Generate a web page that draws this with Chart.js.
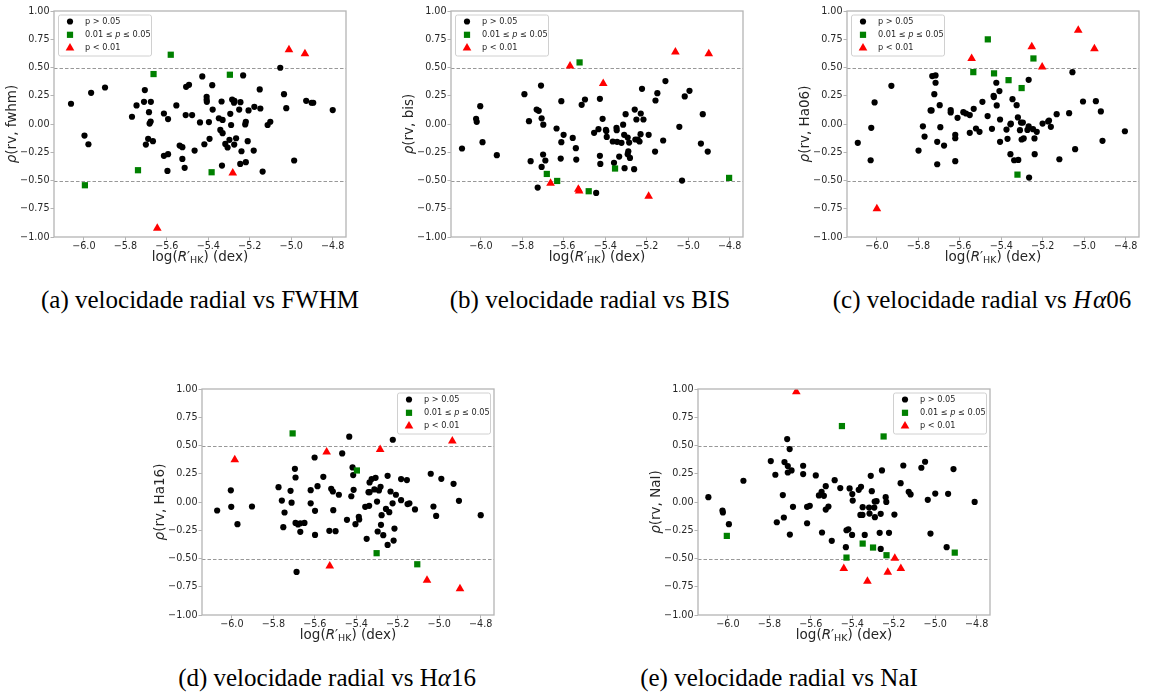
<!DOCTYPE html>
<html>
<head>
<meta charset="utf-8">
<script src="https://cdn.jsdelivr.net/npm/chart.js@4.4.1/dist/chart.umd.min.js"></script>
<style>
  body { margin: 0; background: #fff; width: 1150px; height: 694px; position: relative; overflow: hidden; }
  canvas { position: absolute; }
  .cap { position: absolute; width: 500px; text-align: center; font-family: "Liberation Serif", serif;
         font-size: 25px; line-height: 25px; color: #000; white-space: nowrap; }
  .cap i { font-style: italic; }
</style>
</head>
<body>
<canvas id="pa"></canvas>
<canvas id="pb"></canvas>
<canvas id="pc"></canvas>
<canvas id="pd"></canvas>
<canvas id="pe"></canvas>

<div class="cap" style="left:-50px;top:287px">(a) velocidade radial vs FWHM</div>
<div class="cap" style="left:340px;top:287px">(b) velocidade radial vs BIS</div>
<div class="cap" style="left:732px;top:287px">(c) velocidade radial vs <i>H</i>&#8202;<i>α</i>06</div>
<div class="cap" style="left:77px;top:665px">(d) velocidade radial vs H<i>α</i>16</div>
<div class="cap" style="left:529px;top:665px">(e) velocidade radial vs NaI</div>

<script>
// axis setup shared by every panel
const xTicks = [-6.0, -5.8, -5.6, -5.4, -5.2, -5.0, -4.8];
const yTicks = [-1.0, -0.75, -0.5, -0.25, 0, 0.25, 0.5, 0.75, 1.0];
const xRange = [-6.144, -4.736];
const refLines = [0.5, -0.5];
const groupLabels = ['p > 0.05', '0.01 ≤ p ≤ 0.05', 'p < 0.01'];

// (a) rv vs fwhm : [log R'HK, rho]
const fwhmNs = [[-6.062,0.179],[-5.997,-0.102],[-5.978,-0.179],[-5.965,0.276],[-5.898,0.323],[-5.768,0.064],[-5.746,0.164],[-5.706,0.300],[-5.710,0.196],[-5.677,0.196],[-5.686,0.105],[-5.683,0.004],[-5.678,0.022],[-5.690,-0.131],[-5.701,-0.182],[-5.667,-0.152],[-5.614,0.093],[-5.594,0.044],[-5.614,-0.282],[-5.594,-0.267],[-5.597,-0.415],[-5.554,0.164],[-5.538,-0.191],[-5.525,-0.205],[-5.525,-0.309],[-5.514,-0.388],[-5.509,0.079],[-5.507,0.329],[-5.493,0.347],[-5.478,0.079],[-5.466,-0.235],[-5.440,0.014],[-5.429,0.421],[-5.419,-0.179],[-5.408,0.241],[-5.408,0.214],[-5.407,0.196],[-5.397,0.017],[-5.394,-0.131],[-5.381,0.344],[-5.379,0.128],[-5.349,0.051],[-5.342,-0.052],[-5.336,0.199],[-5.331,0.036],[-5.331,-0.081],[-5.334,-0.368],[-5.318,-0.176],[-5.307,-0.208],[-5.298,-0.140],[-5.294,0.090],[-5.290,-0.009],[-5.285,0.217],[-5.276,0.188],[-5.274,0.205],[-5.275,-0.182],[-5.266,-0.126],[-5.251,0.128],[-5.245,0.193],[-5.246,-0.353],[-5.240,-0.241],[-5.232,0.430],[-5.222,-0.004],[-5.219,0.019],[-5.219,-0.338],[-5.210,-0.152],[-5.206,0.120],[-5.181,-0.235],[-5.178,0.152],[-5.152,0.306],[-5.149,0.137],[-5.138,-0.421],[-5.114,-0.009],[-5.101,0.020],[-5.053,0.498],[-5.035,0.264],[-5.024,0.140],[-4.986,-0.323],[-4.928,0.205],[-4.902,0.188],[-4.894,0.188],[-4.800,0.123]];
const fwhmMid = [[-5.995,-0.542],[-5.739,-0.409],[-5.664,0.442],[-5.581,0.613],[-5.384,-0.427],[-5.296,0.436]];
const fwhmSig = [[-5.646,-0.923],[-5.282,-0.433],[-5.011,0.657],[-4.934,0.622]];

// (b) rv vs bis
const bisNs = [[-6.091,-0.217],[-6.023,0.046],[-6.020,0.019],[-6.003,0.158],[-5.992,-0.161],[-5.923,-0.276],[-5.790,0.264],[-5.768,0.025],[-5.760,-0.329],[-5.731,0.128],[-5.721,0.117],[-5.710,0.340],[-5.707,0.050],[-5.699,-0.006],[-5.700,-0.270],[-5.707,-0.380],[-5.689,-0.323],[-5.726,-0.563],[-5.635,-0.040],[-5.612,0.202],[-5.612,-0.161],[-5.615,-0.306],[-5.601,-0.096],[-5.557,-0.123],[-5.542,-0.214],[-5.540,-0.315],[-5.514,0.170],[-5.498,0.217],[-5.454,-0.078],[-5.433,-0.046],[-5.426,0.223],[-5.426,-0.282],[-5.424,-0.353],[-5.413,0.046],[-5.397,-0.052],[-5.395,-0.063],[-5.393,-0.114],[-5.364,-0.155],[-5.358,-0.344],[-5.346,-0.034],[-5.345,-0.055],[-5.343,-0.158],[-5.333,-0.288],[-5.322,-0.167],[-5.314,-0.006],[-5.309,-0.096],[-5.302,0.087],[-5.307,-0.391],[-5.292,-0.120],[-5.289,-0.241],[-5.292,-0.267],[-5.285,-0.164],[-5.281,-0.300],[-5.261,-0.400],[-5.258,0.128],[-5.250,0.040],[-5.255,-0.137],[-5.243,-0.137],[-5.235,-0.155],[-5.229,0.093],[-5.230,-0.090],[-5.223,0.311],[-5.216,0.040],[-5.191,-0.096],[-5.160,-0.244],[-5.158,0.208],[-5.149,0.273],[-5.110,0.380],[-5.121,-0.146],[-5.043,-0.025],[-5.030,-0.501],[-5.017,0.244],[-4.994,0.294],[-4.939,-0.173],[-4.930,0.087],[-4.906,-0.244],[-5.444,-0.610]];
const bisMid = [[-5.524,0.545],[-5.682,-0.442],[-5.632,-0.504],[-5.480,-0.595],[-5.353,-0.394],[-4.803,-0.477]];
const bisSig = [[-5.570,0.513],[-5.664,-0.524],[-5.530,-0.578],[-5.526,-0.592],[-5.410,0.359],[-5.191,-0.640],[-5.062,0.637],[-4.901,0.622]];

// (c) rv vs Ha06
const ha06Ns = [[-6.092,-0.167],[-6.030,-0.321],[-6.027,-0.034],[-6.011,0.191],[-5.930,0.338],[-5.799,-0.235],[-5.778,-0.021],[-5.770,-0.111],[-5.741,0.120],[-5.736,0.120],[-5.733,0.424],[-5.717,0.430],[-5.717,0.365],[-5.723,0.264],[-5.709,-0.158],[-5.709,-0.356],[-5.697,0.167],[-5.694,-0.028],[-5.676,-0.191],[-5.644,0.123],[-5.644,0.102],[-5.622,-0.096],[-5.622,-0.126],[-5.622,-0.329],[-5.611,0.055],[-5.583,0.105],[-5.570,0.093],[-5.552,0.079],[-5.533,0.134],[-5.552,-0.078],[-5.522,-0.040],[-5.505,-0.069],[-5.491,0.196],[-5.466,0.070],[-5.445,-0.043],[-5.437,0.250],[-5.436,0.238],[-5.424,0.365],[-5.422,0.164],[-5.409,0.291],[-5.406,0.040],[-5.406,-0.158],[-5.375,-0.049],[-5.370,-0.131],[-5.356,-0.003],[-5.354,0.003],[-5.356,-0.267],[-5.346,0.220],[-5.338,-0.321],[-5.326,0.167],[-5.320,0.058],[-5.318,-0.318],[-5.310,-0.055],[-5.305,0.013],[-5.296,0.013],[-5.302,-0.137],[-5.292,-0.128],[-5.274,-0.052],[-5.268,-0.021],[-5.268,0.391],[-5.266,-0.474],[-5.247,-0.046],[-5.240,-0.128],[-5.239,-0.267],[-5.229,-0.069],[-5.201,0.004],[-5.174,0.022],[-5.170,0.031],[-5.161,-0.025],[-5.133,0.087],[-5.120,-0.312],[-5.073,0.096],[-5.057,0.459],[-5.044,-0.223],[-5.006,0.199],[-4.944,0.202],[-4.920,0.111],[-4.912,-0.149],[-4.804,-0.064]];
const ha06Mid = [[-5.535,0.459],[-5.465,0.749],[-5.435,0.448],[-5.365,0.388],[-5.302,0.318],[-5.245,0.580],[-5.322,-0.448]];
const ha06Sig = [[-5.543,0.580],[-6.000,-0.749],[-5.253,0.684],[-5.203,0.504],[-5.029,0.829],[-4.951,0.666]];

// (d) rv vs Ha16
const ha16Ns = [[-6.071,-0.075],[-6.005,0.103],[-6.003,-0.043],[-5.973,-0.196],[-5.903,-0.040],[-5.775,0.131],[-5.759,0.013],[-5.752,-0.223],[-5.746,-0.093],[-5.717,0.099],[-5.712,-0.006],[-5.696,0.294],[-5.693,0.217],[-5.693,-0.185],[-5.688,-0.619],[-5.681,-0.199],[-5.670,-0.188],[-5.670,-0.264],[-5.650,-0.185],[-5.620,0.105],[-5.620,-0.012],[-5.601,0.394],[-5.599,-0.078],[-5.599,-0.291],[-5.587,0.140],[-5.559,0.223],[-5.530,-0.255],[-5.521,0.117],[-5.513,0.093],[-5.511,-0.072],[-5.500,-0.258],[-5.484,0.064],[-5.468,0.430],[-5.445,-0.158],[-5.434,0.578],[-5.424,0.051],[-5.418,0.306],[-5.415,0.238],[-5.413,0.108],[-5.404,-0.196],[-5.388,-0.131],[-5.386,-0.155],[-5.357,-0.043],[-5.350,-0.326],[-5.341,0.087],[-5.336,0.087],[-5.338,-0.034],[-5.336,0.173],[-5.326,0.203],[-5.313,0.111],[-5.307,0.214],[-5.300,0.004],[-5.297,-0.261],[-5.291,0.102],[-5.283,0.134],[-5.278,-0.117],[-5.281,-0.202],[-5.270,-0.294],[-5.257,-0.061],[-5.249,0.232],[-5.249,-0.380],[-5.241,-0.090],[-5.235,0.093],[-5.225,-0.012],[-5.224,0.551],[-5.220,-0.341],[-5.216,-0.235],[-5.209,0.064],[-5.184,0.203],[-5.184,0.016],[-5.156,0.194],[-5.153,-0.018],[-5.144,-0.012],[-5.117,-0.066],[-5.041,0.250],[-5.028,-0.040],[-5.015,-0.123],[-4.990,0.205],[-4.931,0.161],[-4.905,0.010],[-4.800,-0.117]];
const ha16Mid = [[-5.707,0.607],[-5.397,0.279],[-5.302,-0.453],[-5.106,-0.551]];
const ha16Sig = [[-5.986,0.374],[-5.543,0.442],[-5.528,-0.566],[-5.285,0.465],[-5.059,-0.693],[-4.937,0.539],[-4.900,-0.767]];

// (e) rv vs NaI
const naiNs = [[-6.094,0.043],[-6.026,-0.075],[-6.024,-0.093],[-5.995,-0.196],[-5.925,0.188],[-5.793,0.362],[-5.771,0.241],[-5.764,-0.179],[-5.735,0.061],[-5.730,-0.137],[-5.727,0.353],[-5.714,0.557],[-5.711,0.318],[-5.711,0.261],[-5.702,0.468],[-5.701,-0.288],[-5.693,0.279],[-5.686,-0.043],[-5.637,0.321],[-5.637,0.247],[-5.618,-0.043],[-5.605,-0.034],[-5.618,-0.188],[-5.576,0.235],[-5.561,0.058],[-5.548,0.090],[-5.546,-0.270],[-5.537,0.055],[-5.528,0.140],[-5.528,-0.067],[-5.515,-0.040],[-5.499,-0.344],[-5.485,0.193],[-5.458,0.123],[-5.413,0.120],[-5.400,0.070],[-5.398,0.013],[-5.401,-0.291],[-5.419,-0.241],[-5.428,-0.250],[-5.431,-0.400],[-5.369,0.108],[-5.358,0.134],[-5.361,-0.114],[-5.351,-0.114],[-5.350,-0.046],[-5.340,-0.291],[-5.319,-0.049],[-5.311,0.232],[-5.306,0.096],[-5.317,-0.102],[-5.294,-0.049],[-5.292,0.004],[-5.283,0.007],[-5.291,-0.134],[-5.263,-0.105],[-5.268,-0.273],[-5.263,-0.415],[-5.257,0.279],[-5.239,0.043],[-5.236,0.001],[-5.223,-0.273],[-5.197,-0.111],[-5.167,0.167],[-5.154,0.323],[-5.128,0.090],[-5.119,0.067],[-5.067,0.303],[-5.049,0.356],[-5.036,0.019],[-5.023,-0.279],[-5.000,0.075],[-4.945,-0.400],[-4.938,0.072],[-4.912,0.291],[-4.810,0.001]];
const naiMid = [[-6.005,-0.300],[-5.450,0.672],[-5.249,0.580],[-5.428,-0.492],[-5.350,-0.368],[-5.300,-0.403],[-5.235,-0.471],[-4.906,-0.448]];
const naiSig = [[-5.670,0.976],[-5.441,-0.589],[-5.327,-0.702],[-5.229,-0.622],[-5.195,-0.498],[-5.166,-0.589]];

// marker look for each significance group
const markers = [
  { style: 'circle',   radius: 3.1, color: '#000000' },
  { style: 'rect',     radius: 4.4, color: '#008000' },
  { style: 'triangle', radius: 5.0, color: '#ff0000' }
];

const FRAME_W = 292, FRAME_H = 226;
const PAD_L = 56, PAD_T = 10, PAD_R = 10, PAD_B = 34;
const TEXT = '#262626';
const EDGE = '#b4b4b4';

function fmt(v, d) {
  const s = Math.abs(v).toFixed(d);
  return (v < 0 ? '\u2212' : '') + s;
}

function drawPieces(ctx, pieces, x, y) {
  // pieces: [text, font, dy]; drawn left to right, centred on x
  let total = 0;
  pieces.forEach(p => { ctx.font = p[1]; total += ctx.measureText(p[0]).width; });
  let cx = x - total / 2;
  pieces.forEach(p => {
    ctx.font = p[1];
    ctx.fillText(p[0], cx, y + (p[2] || 0));
    cx += ctx.measureText(p[0]).width;
  });
}

function drawMarker(ctx, m, x, y) {
  ctx.fillStyle = m.color;
  ctx.beginPath();
  if (m.style === 'circle') {
    ctx.arc(x, y, m.radius, 0, Math.PI * 2);
  } else if (m.style === 'rect') {
    const s = m.radius * Math.SQRT1_2;
    ctx.rect(x - s, y - s, 2 * s, 2 * s);
  } else {
    const r = m.radius;
    ctx.moveTo(x, y - r);
    ctx.lineTo(x + r * Math.sin(Math.PI / 3), y + r / 2);
    ctx.lineTo(x - r * Math.sin(Math.PI / 3), y + r / 2);
    ctx.closePath();
  }
  ctx.fill();
}

const decor = {
  id: 'decor',
  beforeDatasetsDraw(chart) {
    const { ctx, chartArea: a, scales } = chart;
    ctx.save();
    ctx.strokeStyle = '#8c8c8c';
    ctx.lineWidth = 0.9;
    ctx.setLineDash([3.5, 2]);
    refLines.forEach(v => {
      const y = Math.round(scales.y.getPixelForValue(v)) + 0.5;
      ctx.beginPath();
      ctx.moveTo(a.left, y);
      ctx.lineTo(a.right, y);
      ctx.stroke();
    });
    ctx.restore();
  },
  afterDraw(chart) {
    const { ctx, chartArea: a } = chart;
    const o = chart.options.plugins.decor;
    ctx.save();

    // axes frame
    ctx.strokeStyle = EDGE;
    ctx.lineWidth = 1.3;
    ctx.strokeRect(a.left, a.top, a.right - a.left, a.bottom - a.top);

    // legend box
    const w = 93, h = 41;
    const x0 = o.legendSide === 'left' ? a.left + 4 : a.right - 4 - w;
    const y0 = a.top + 3.5;
    ctx.fillStyle = 'rgba(255,255,255,0.8)';
    ctx.strokeStyle = '#d0d0d0';
    ctx.lineWidth = 1;
    ctx.beginPath();
    ctx.roundRect(x0 + 0.5, y0 + 0.5, w, h, 2);
    ctx.fill();
    ctx.stroke();
    const lf = '8.2px "DejaVu Sans"';
    const lfi = 'italic 8.2px "DejaVu Sans"';
    ctx.textBaseline = 'middle';
    ctx.textAlign = 'left';
    groupLabels.forEach((lab, i) => {
      const ry = y0 + 7 + i * 13.3;
      drawMarker(ctx, markers[i], x0 + 12, ry);
      ctx.fillStyle = TEXT;
      if (lab.indexOf(' p ') >= 0) {
        const parts = lab.split(' p ');
        let cx = x0 + 27;
        [[parts[0] + ' ', lf], ['p', lfi], [' ' + parts[1], lf]].forEach(p => {
          ctx.font = p[1];
          ctx.fillText(p[0], cx, ry);
          cx += ctx.measureText(p[0]).width;
        });
      } else {
        ctx.font = lf;
        ctx.fillText(lab, x0 + 27, ry);
      }
    });

    // axis titles
    ctx.fillStyle = TEXT;
    ctx.textAlign = 'left';
    ctx.textBaseline = 'middle';
    const f = '13.5px "DejaVu Sans"';
    const fi = 'italic 13.5px "DejaVu Sans"';
    const fs = '9.5px "DejaVu Sans"';
    drawPieces(ctx, [['log(', f], ['R', fi], ['\u2032', f], ['HK', fs, 3], [')', f], [' (dex)', f]],
      (a.left + a.right) / 2, a.bottom + 20.5);
    ctx.translate(a.left - 42, (a.top + a.bottom) / 2);
    ctx.rotate(-Math.PI / 2);
    drawPieces(ctx, [['\u03c1', fi], ['(rv, ' + o.yName + ')', f]], 0, 0);
    ctx.restore();
  }
};

function makePanel(id, left, top, sets, yName, legendSide) {
  const cv = document.getElementById(id);
  cv.width = FRAME_W + PAD_L + PAD_R;
  cv.height = FRAME_H + PAD_T + PAD_B;
  cv.style.left = (left - PAD_L) + 'px';
  cv.style.top = (top - PAD_T) + 'px';

  const datasets = sets.map((pts, i) => ({
    label: groupLabels[i],
    data: pts.map(p => ({ x: p[0], y: p[1] })),
    pointStyle: markers[i].style,
    pointRadius: markers[i].radius,
    pointHoverRadius: markers[i].radius,
    backgroundColor: markers[i].color,
    borderWidth: 0,
    showLine: false,
    order: 3 - i
  }));

  const tickFont = { family: 'DejaVu Sans', size: 9.6 };
  new Chart(cv, {
    type: 'scatter',
    data: { datasets },
    options: {
      responsive: false,
      animation: false,
      devicePixelRatio: 1,
      layout: { padding: { left: 0, top: PAD_T, right: PAD_R, bottom: 0 } },
      scales: {
        x: {
          type: 'linear', min: xRange[0], max: xRange[1],
          afterBuildTicks: s => { s.ticks = xTicks.map(v => ({ value: v })); },
          afterFit: s => { s.height = PAD_B; },
          ticks: { callback: v => fmt(v, 1), font: tickFont, color: TEXT, padding: 0, maxRotation: 0, autoSkip: false },
          grid: { drawOnChartArea: false, drawTicks: true, tickLength: 3.5, color: EDGE },
          border: { display: false }
        },
        y: {
          type: 'linear', min: -1, max: 1,
          afterBuildTicks: s => { s.ticks = yTicks.map(v => ({ value: v })); },
          afterFit: s => { s.width = PAD_L; },
          ticks: { callback: v => fmt(v, 2), font: tickFont, color: TEXT, padding: 1, autoSkip: false },
          grid: { drawOnChartArea: false, drawTicks: true, tickLength: 3.5, color: EDGE },
          border: { display: false }
        }
      },
      plugins: {
        legend: { display: false },
        tooltip: { enabled: false },
        decor: { yName, legendSide }
      }
    },
    plugins: [decor]
  });
}

makePanel('pa', 54, 11, [fwhmNs, fwhmMid, fwhmSig], 'fwhm', 'left');
makePanel('pb', 451, 11, [bisNs, bisMid, bisSig], 'bis', 'left');
makePanel('pc', 847, 11, [ha06Ns, ha06Mid, ha06Sig], 'Ha06', 'left');
makePanel('pd', 202, 389, [ha16Ns, ha16Mid, ha16Sig], 'Ha16', 'right');
makePanel('pe', 698, 389, [naiNs, naiMid, naiSig], 'NaI', 'right');
</script>
</body>
</html>
